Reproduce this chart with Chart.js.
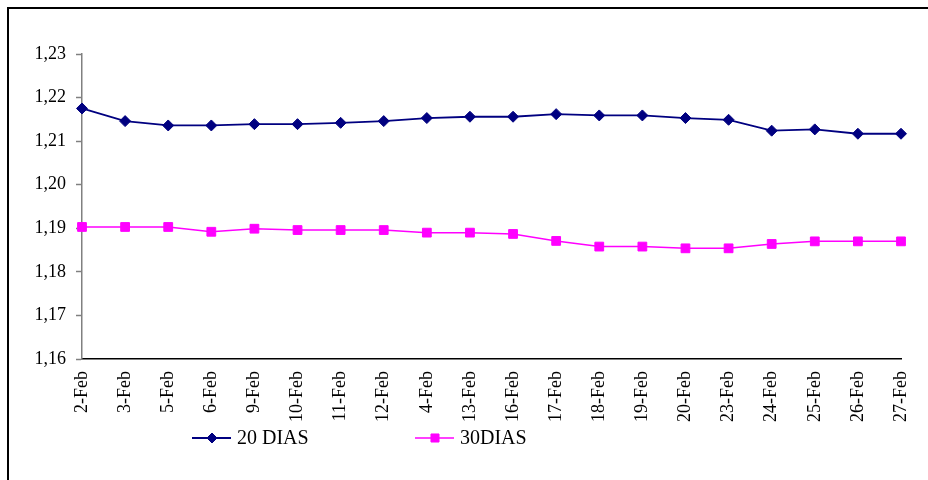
<!DOCTYPE html>
<html>
<head>
<meta charset="utf-8">
<script src="https://cdn.jsdelivr.net/npm/chart.js@4/dist/chart.umd.min.js"></script>
<style>
  html, body { margin: 0; padding: 0; background: #fff; overflow: hidden; }
  #wrap { position: relative; width: 928px; height: 480px; }
  #frame { position: absolute; left: 7px; top: 7px; width: 2000px; height: 2000px;
           border-left: 2px solid #000; border-top: 2px solid #000; pointer-events: none; }
  canvas { position: absolute; left: 0; top: 0; }
</style>
</head>
<body>
<div id="wrap">
  <canvas id="c" width="928" height="480"></canvas>
  <div id="frame"></div>
</div>
<script>
const categories = ['2-Feb','3-Feb','5-Feb','6-Feb','9-Feb','10-Feb','11-Feb','12-Feb','4-Feb','13-Feb',
                    '16-Feb','17-Feb','18-Feb','19-Feb','20-Feb','23-Feb','24-Feb','25-Feb','26-Feb','27-Feb'];
const dias20 = [1.2175,1.2146,1.2136,1.2136,1.2139,1.2139,1.2142,1.2146,1.2153,1.2156,
                1.2156,1.2162,1.2159,1.2159,1.2153,1.2149,1.2124,1.2127,1.2117,1.2117];
const dias30 = [1.1903,1.1903,1.1903,1.1892,1.1899,1.1896,1.1896,1.1896,1.1890,1.1890,
                1.1887,1.1871,1.1858,1.1858,1.1854,1.1854,1.1864,1.1870,1.1870,1.1870];
const seriesNames = ['20 DIAS', '30DIAS'];
const yMin = 1.16, yMax = 1.23, yStep = 0.01;

const FONT = 'Liberation Serif, Times New Roman, serif';

const legendPlugin = {
  id: 'customLegend',
  afterDraw(chart) {
    const ctx = chart.ctx;
    const positions = [192, 415];
    const y = 438;
    ctx.save();
    chart.data.datasets.forEach((ds, i) => {
      const x0 = positions[i];
      ctx.strokeStyle = ds.borderColor;
      ctx.lineWidth = ds.borderWidth;
      ctx.beginPath();
      ctx.moveTo(x0, y);
      ctx.lineTo(x0 + 39, y);
      ctx.stroke();
      ctx.fillStyle = ds.pointBackgroundColor;
      ctx.strokeStyle = ds.pointBorderColor;
      ctx.lineWidth = 1;
      Chart.helpers.drawPoint(ctx, { pointStyle: ds.pointStyle, radius: ds.pointRadius - 0.5, borderWidth: 1 }, x0 + 20, y);
      ctx.fillStyle = '#000';
      ctx.font = '20px ' + FONT;
      ctx.textBaseline = 'middle';
      ctx.textAlign = 'left';
      ctx.fillText(ds.label, x0 + 45, y + 1);
    });
    ctx.restore();
  }
};

new Chart(document.getElementById('c'), {
  type: 'line',
  data: {
    labels: categories,
    datasets: [
      {
        label: seriesNames[0],
        data: dias20,
        borderColor: '#000080',
        backgroundColor: '#000080',
        pointBackgroundColor: '#000080',
        pointBorderColor: '#000080',
        borderWidth: 1.8,
        pointStyle: 'rectRot',
        pointRadius: 5.5,
        pointBorderWidth: 1,
        tension: 0,
        fill: false
      },
      {
        label: seriesNames[1],
        data: dias30,
        borderColor: '#FF00FF',
        backgroundColor: '#FF00FF',
        pointBackgroundColor: '#FF00FF',
        pointBorderColor: '#FF00FF',
        borderWidth: 1.5,
        pointStyle: 'rect',
        pointRadius: 6.2,
        pointBorderWidth: 1,
        tension: 0,
        fill: false
      }
    ]
  },
  options: {
    responsive: false,
    animation: false,
    layout: { padding: { top: 54, right: 27, left: 0, bottom: 0 } },
    plugins: {
      legend: { display: false },
      tooltip: { enabled: false },
      title: { display: false }
    },
    scales: {
      x: {
        offset: false,
        grid: { display: false, drawTicks: false },
        border: { display: true, color: '#000', width: 1.5 },
        ticks: {
          autoSkip: false,
          maxRotation: 90,
          minRotation: 90,
          padding: 12,
          color: '#000',
          font: { family: FONT, size: 18 }
        },
        afterFit(scale) {
          scale.height = 121;
          scale.paddingLeft = 0;
          scale.paddingRight = 0;
        }
      },
      y: {
        min: yMin,
        max: yMax,
        grid: { drawOnChartArea: false, drawTicks: true, tickLength: 6, color: '#808080', tickWidth: 1.5 },
        border: { display: true, color: '#808080', width: 1.5 },
        ticks: {
          stepSize: yStep,
          padding: 10,
          color: '#000',
          font: { family: FONT, size: 18 },
          callback: (v) => Number(v).toFixed(2).replace('.', ',')
        },
        afterFit(scale) { scale.width = 82; }
      }
    }
  },
  plugins: [legendPlugin]
});
</script>
</body>
</html>
